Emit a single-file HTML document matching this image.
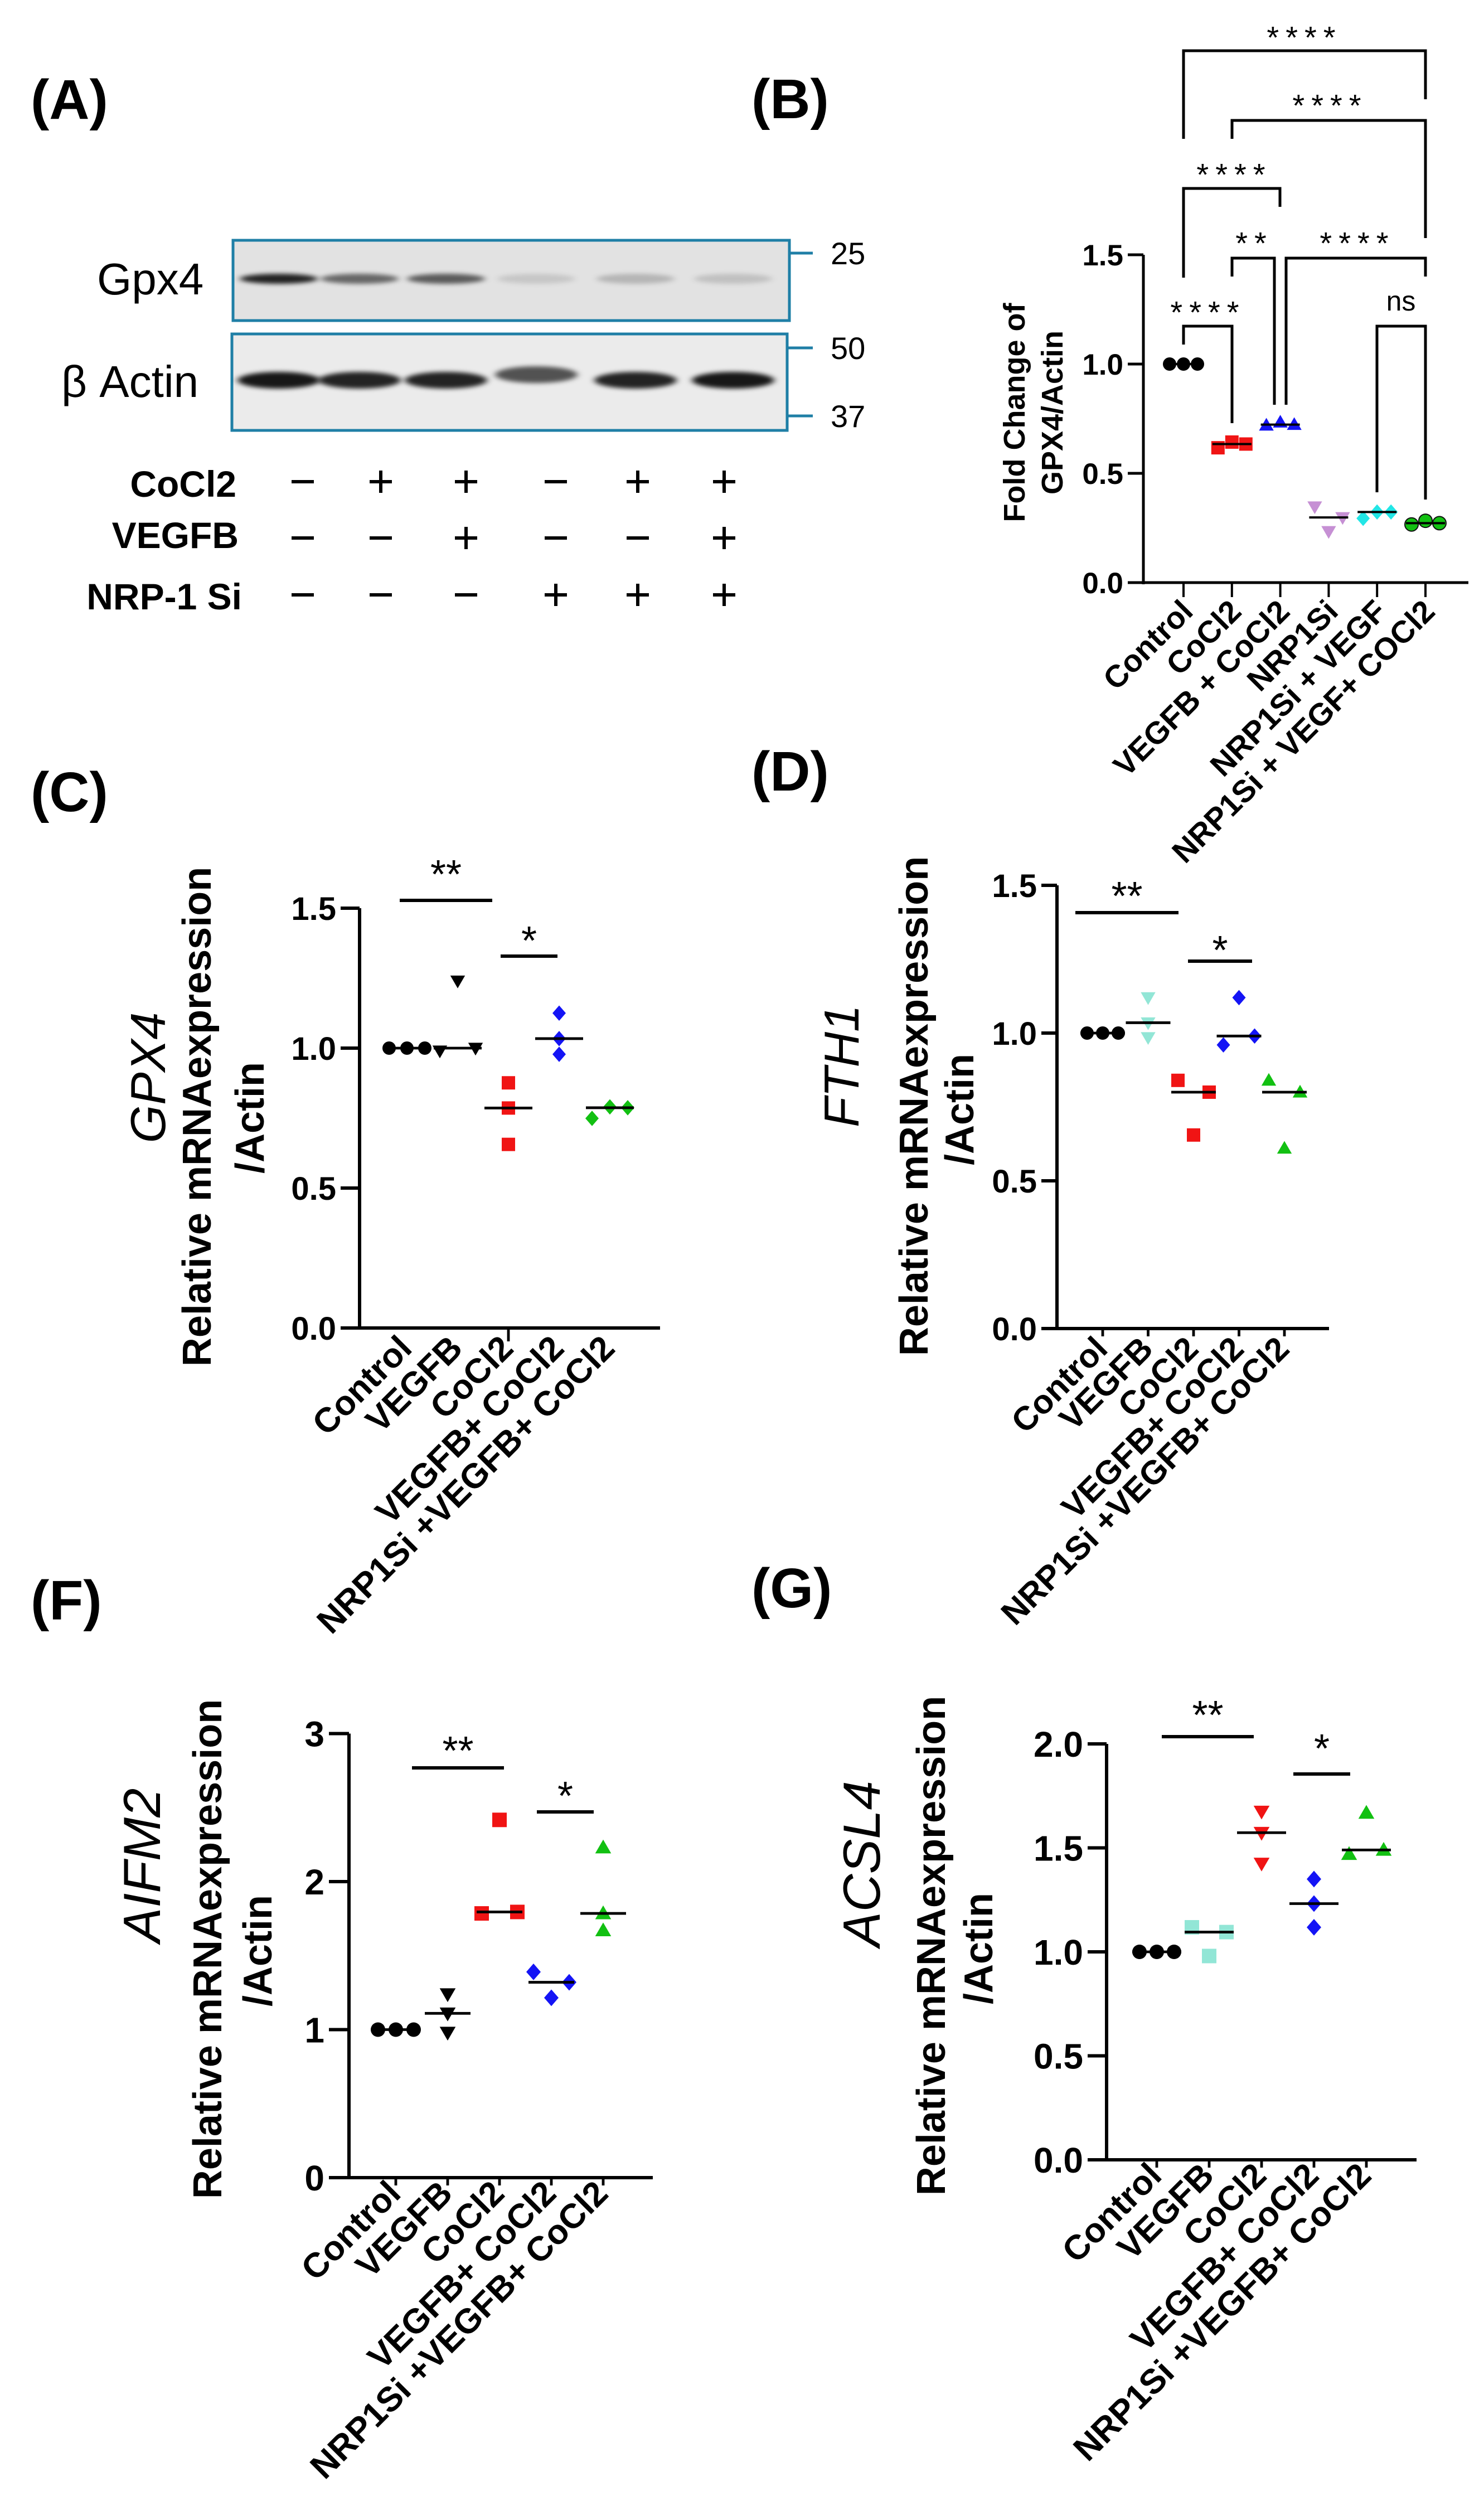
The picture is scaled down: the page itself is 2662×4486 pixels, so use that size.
<!DOCTYPE html>
<html><head><meta charset="utf-8"><style>
html,body{margin:0;padding:0;background:#fff;}
svg{display:block;font-family:"Liberation Sans",Arial,sans-serif;}
</style></head><body>
<svg id="fig" xmlns="http://www.w3.org/2000/svg" width="2662" height="4486" viewBox="0 0 2662 4486">
<defs>
<filter id="blur" x="-30%" y="-100%" width="160%" height="300%"><feGaussianBlur stdDeviation="6 4"/></filter>
</defs>
<g>
<text x="55" y="213" font-size="100" font-weight="bold">(A)</text>
<rect x="418" y="431" width="998" height="144" fill="#e2e2e2" stroke="#1f7fa6" stroke-width="5"/>
<rect x="416" y="599" width="996" height="173" fill="#ebebeb" stroke="#1f7fa6" stroke-width="5"/>
<text x="174" y="528" font-size="80">Gpx4</text>
<text x="110" y="712" font-size="80">β Actin</text>
<g stroke="#1f7fa6" stroke-width="5">
<line x1="1416" y1="454" x2="1458" y2="454"/>
<line x1="1412" y1="624" x2="1458" y2="624"/>
<line x1="1412" y1="746" x2="1458" y2="746"/>
</g>
<text x="1490" y="474" font-size="56">25</text>
<text x="1490" y="644" font-size="56">50</text>
<text x="1490" y="766" font-size="56">37</text>
<text x="424" y="891" font-size="66" font-weight="bold" text-anchor="end">CoCl2</text>
<text x="428" y="983" font-size="66" font-weight="bold" text-anchor="end">VEGFB</text>
<text x="434" y="1093" font-size="66" font-weight="bold" text-anchor="end">NRP-1 Si</text>
<g id="blotBands"></g>
<g id="signs"></g>
</g>
<g id="charts"></g>
</svg>
<script>
// ---------- Blot data ----------
const laneX = [500, 645, 800, 962, 1140, 1315];
const gpx4Intensity = [0.85, 0.55, 0.6, 0.12, 0.2, 0.15];
const actinIntensity = [0.9, 0.85, 0.85, 0.65, 0.85, 0.9];
const cocl2Row = ["-", "+", "+", "-", "+", "+"];
const vegfbRow = ["-", "-", "+", "-", "-", "+"];
const nrpRow = ["-", "-", "-", "+", "+", "+"];
const signX = [543, 683, 836, 997, 1144, 1299];

// ---------- Panel B data ----------
const catsB = ["Control", "CoCl2", "VEGFB + CoCl2", "NRP1Si", "NRP1Si + VEGF", "NRP1Si + VEGF+ COCl2"];
const bControl = [1, 1, 1];
const bCoCl2 = [0.617, 0.643, 0.634];
const bVegfbCoCl2 = [0.72, 0.734, 0.723];
const bNrp1Si = [0.347, 0.234, 0.298];
const bNrp1SiVegf = [0.294, 0.323, 0.323];
const bNrp1SiVegfCoCl2 = [0.266, 0.283, 0.272];
const ticksB = [0, 0.5, 1.0, 1.5];

// ---------- mRNA panels data ----------
const catsMRNA = ["Control", "VEGFB", "CoCl2", "VEGFB+ CoCl2", "NRP1Si +VEGFB+ CoCl2"];
const cControl = [1, 1, 1];
const cVegfb = [1.24, 0.99, 1.0];
const cCoCl2 = [0.876, 0.786, 0.656];
const cVegfbCoCl2 = [1.125, 1.034, 0.978];
const cNrp = [0.749, 0.79, 0.787];
const ticksC = [0, 0.5, 1.0, 1.5];

const dControl = [1, 1, 1];
const dVegfb = [1.12, 1.035, 0.985];
const dCoCl2 = [0.84, 0.80, 0.655];
const dVegfbCoCl2 = [1.12, 0.99, 0.96];
const dNrp = [0.84, 0.80, 0.61];
const ticksD = [0, 0.5, 1.0, 1.5];

const fControl = [1, 1, 1];
const fVegfb = [1.24, 1.11, 0.98];
const fCoCl2 = [1.785, 2.417, 1.795];
const fVegfbCoCl2 = [1.39, 1.215, 1.32];
const fNrp = [2.23, 1.785, 1.67];
const ticksF = [0, 1, 2, 3];

const gControl = [1, 1, 1];
const gVegfb = [1.118, 0.98, 1.095];
const gCoCl2 = [1.675, 1.573, 1.425];
const gVegfbCoCl2 = [1.35, 1.232, 1.118];
const gNrp = [1.47, 1.668, 1.49];
const ticksG = [0, 0.5, 1.0, 1.5, 2.0];

const NS = "http://www.w3.org/2000/svg";
function mk(tag, attrs, parent) {
  const e = document.createElementNS(NS, tag);
  for (const k in attrs) e.setAttribute(k, attrs[k]);
  parent.appendChild(e);
  return e;
}
function median(a) { const s = a.slice().sort((p, q) => p - q); return s[Math.floor(s.length / 2)]; }

// ---------- Blot bands ----------
const bandG = document.getElementById("blotBands");
laneX.forEach((x, i) => {
  const g = gpx4Intensity[i], a = actinIntensity[i];
  const b1 = mk("ellipse", {cx: x, cy: 500, rx: 70, ry: 9, fill: "#000", "fill-opacity": g, filter: "url(#blur)"}, bandG);
  
  
  const b2 = mk("ellipse", {cx: x, cy: i === 3 ? 672 : 682, rx: 74, ry: 15, fill: "#000", "fill-opacity": a, filter: "url(#blur)"}, bandG);
  
  
});
const signG = document.getElementById("signs");
[[cocl2Row, 864], [vegfbRow, 965], [nrpRow, 1067]].forEach(([row, y]) => {
  row.forEach((s, i) => {
    const x = signX[i];
    const h = mk("line", {x1: x - 20, y1: y, x2: x + 20, y2: y, stroke: "#000", "stroke-width": 6}, signG);
    
    
    if (s === "+") {
      const v = mk("line", {x1: x, y1: y - 20, x2: x, y2: y + 20, stroke: "#000", "stroke-width": 6}, signG);
      
      
    }
  });
});

// ---------- Markers ----------
function marker(parent, shape, cx, cy, r, fill, stroke) {
  let e;
  if (shape === "circle") e = mk("circle", {cx, cy, r}, parent);
  else if (shape === "square") e = mk("rect", {x: cx - r, y: cy - r, width: 2 * r, height: 2 * r}, parent);
  else if (shape === "up") e = mk("polygon", {points: `${cx},${cy - r * 1.1} ${cx - r * 1.1},${cy + r * 0.8} ${cx + r * 1.1},${cy + r * 0.8}`}, parent);
  else if (shape === "down") e = mk("polygon", {points: `${cx},${cy + r * 1.1} ${cx - r * 1.1},${cy - r * 0.8} ${cx + r * 1.1},${cy - r * 0.8}`}, parent);
  else e = mk("polygon", {points: `${cx},${cy - r * 1.15} ${cx + r * 1.0},${cy} ${cx},${cy + r * 1.15} ${cx - r * 1.0},${cy}`}, parent);
  e.setAttribute("fill", fill);
  if (stroke) { e.setAttribute("stroke", stroke); e.setAttribute("stroke-width", 2); }
  return e;
}

// ---------- Generic scatter panel ----------
function drawPanel(p) {
  const root = document.getElementById("charts");
  const g = mk("g", {}, root);
  
  
  const yS = v => p.y0 - v * p.per1;
  const xS = i => p.cx0 + i * p.step;
  const top = yS(p.ticks[p.ticks.length - 1]);
  const lab = mk("text", {x: p.labelX, y: p.labelY, "font-size": 100, "font-weight": "bold"}, g);
  lab.textContent = p.letter;
  
  
  const ya = mk("line", {x1: p.ax, y1: top, x2: p.ax, y2: p.y0 + 3, stroke: "#000", "stroke-width": p.sw}, g);
  
  
  const xa = mk("line", {x1: p.ax - p.tickLen, y1: p.y0, x2: p.xEnd, y2: p.y0, stroke: "#000", "stroke-width": p.sw}, g);
  
  
  p.ticks.forEach(t => {
    const y = yS(t);
    const tl = mk("line", {x1: p.ax - p.tickLen, y1: y, x2: p.ax, y2: y, stroke: "#000", "stroke-width": p.sw}, g);
    
    
    const tx = mk("text", {x: p.ax - p.tickLen - 8, y: y + p.tickFs * 0.36, "font-size": p.tickFs, "font-weight": "bold", "text-anchor": "end"}, g);
    tx.textContent = p.dec ? t.toFixed(1) : String(t);
    
    
  });
  p.cats.forEach((c, i) => {
    const x = xS(i);
    if (p.xTicks === "all" || p.xTicks === i) {
      const xt = mk("line", {x1: x, y1: p.y0, x2: x, y2: p.y0 + p.xTickLen, stroke: "#000", "stroke-width": p.sw * 0.8}, g);
      
      
    }
    const ct = mk("text", {transform: `translate(${x + p.catDx},${p.y0 + p.catDy}) rotate(-45)`, "font-size": p.catFs, "font-weight": "bold", "text-anchor": "end"}, g);
    ct.textContent = c;
    
    
    const vals = p.series[i];
    const st = p.styles[i];
    const med = median(vals);
    vals.forEach((v, j) => {
      const m = marker(g, st[0], x + p.jit[i][j] * p.jitU, yS(v), p.r, st[1], st[2]);
      
      
    });
    const ml = mk("line", {x1: x - p.medW / 2, y1: yS(med), x2: x + p.medW / 2, y2: yS(med), stroke: "#000", "stroke-width": p.sw * 0.8}, g);
    
    
  });
  const yt1 = mk("text", {transform: `translate(${p.t1x},${p.t1y}) rotate(-90)`, "font-size": p.titleFs, "font-weight": "bold", "text-anchor": "middle"}, g);
  yt1.textContent = p.title1;
  
  
  const yt2 = mk("text", {transform: `translate(${p.t2x},${p.t2y}) rotate(-90)`, "font-size": p.titleFs, "font-weight": "bold", "text-anchor": "middle"}, g);
  yt2.textContent = p.title2;
  
  
  if (p.gene) {
    const gn = mk("text", {transform: `translate(${p.gx},${p.gy}) rotate(-90)`, "font-size": p.geneFs, "font-style": "italic", "text-anchor": "middle"}, g);
    gn.textContent = p.gene;
    
    
  }
  (p.sig || []).forEach(s => {
    const sl = mk("line", {x1: s[0], y1: s[2], x2: s[1], y2: s[2], stroke: "#000", "stroke-width": 6}, g);
    
    
    const stx = mk("text", {x: (s[0] + s[1]) / 2, y: s[3] + 72 * 0.58, "font-size": 72, "text-anchor": "middle"}, g);
    stx.textContent = s[4];
    
    
  });
  (p.brackets || []).forEach(b => {
    const bp = mk("polyline", {points: `${b[0]},${b[3]} ${b[0]},${b[2]} ${b[1]},${b[2]} ${b[1]},${b[4]}`, fill: "none", stroke: "#000", "stroke-width": 5}, g);
    
    
    const isNs = b[5] === "ns";
    const bt = mk("text", {x: b[6], y: b[7] + (isNs ? 18 : 56 * 0.58), "font-size": isNs ? 50 : 56, "text-anchor": "middle", "letter-spacing": isNs ? 0 : 12}, g);
    bt.textContent = b[5];
    
    
  });
}

const RED = "#f01414", BLUE = "#1414f5", GREEN = "#12c012", CYAN = "#22e6e6", AQUA = "#92e6d6", PURPLE = "#c690d4";

drawPanel({
  name: "panel-b-chart", letter: "(B)", labelX: 1348, labelY: 212,
  ax: 2051, y0: 1045, per1: 392, ticks: ticksB, dec: true, tickLen: 28, tickFs: 53, sw: 5,
  cx0: 2123, step: 86.8, xEnd: 2634, xTicks: "all", xTickLen: 26, cats: catsB, catFs: 56, catDx: 20, catDy: 55,
  series: [bControl, bCoCl2, bVegfbCoCl2, bNrp1Si, bNrp1SiVegf, bNrp1SiVegfCoCl2],
  styles: [["circle", "#000"], ["square", RED], ["up", BLUE], ["down", PURPLE], ["diamond", CYAN], ["circle", GREEN, "#111"]],
  jit: [[-1, 0, 1], [-1, 0, 1], [-1, 0, 1], [-1, 0, 1], [-1, 0, 1], [-1, 0, 1]], jitU: 25, r: 12, medW: 70,
  title1: "Fold Change of", t1x: 1838, t1y: 740, title2: "GPX4/Actin", t2x: 1906, t2y: 740, titleFs: 54,
  brackets: [
    [2123, 2557, 91, 249, 178, "****", 2340, 54],
    [2210, 2557, 216, 249, 427, "****", 2386, 176],
    [2123, 2296, 338, 498, 371, "****", 2214, 300],
    [2210, 2286, 463, 496, 726, "**", 2250, 423],
    [2307, 2557, 463, 726, 496, "****", 2435, 423],
    [2123, 2210, 585, 618, 759, "****", 2167, 547],
    [2470, 2557, 585, 883, 896, "ns", 2513, 539]
  ]
});

drawPanel({
  name: "panel-c-chart", letter: "(C)", labelX: 55, labelY: 1455,
  ax: 645, y0: 2382, per1: 502, ticks: ticksC, dec: true, tickLen: 34, tickFs: 58, sw: 6,
  cx0: 730, step: 91, xEnd: 1184, xTicks: 2, xTickLen: 24, cats: catsMRNA, catFs: 62, catDx: 12, catDy: 40,
  series: [cControl, cVegfb, cCoCl2, cVegfbCoCl2, cNrp],
  styles: [["circle", "#000"], ["down", "#000"], ["square", RED], ["diamond", BLUE], ["diamond", GREEN]],
  jit: [[-1, 0, 1], [0, -1, 1], [0, 0, 0], [0, 0, 0], [-1, 0, 1]], jitU: 32, r: 12, medW: 86,
  title1: "Relative mRNAexpression", t1x: 378, t1y: 2003, title2: "/Actin", t2x: 473, t2y: 2005, titleFs: 72,
  gene: "GPX4", gx: 296, gy: 1933, geneFs: 88,
  sig: [[717, 883, 1615, 1551, "**"], [898, 1000, 1715, 1670, "*"]]
});

drawPanel({
  name: "panel-d-chart", letter: "(D)", labelX: 1348, labelY: 1418,
  ax: 1896, y0: 2383, per1: 530, ticks: ticksD, dec: true, tickLen: 28, tickFs: 58, sw: 6,
  cx0: 1978, step: 81.5, xEnd: 2384, xTicks: "all", xTickLen: 14, cats: catsMRNA, catFs: 60, catDx: 12, catDy: 40,
  series: [dControl, dVegfb, dCoCl2, dVegfbCoCl2, dNrp],
  styles: [["circle", "#000"], ["down", AQUA], ["square", RED], ["diamond", BLUE], ["up", GREEN]],
  jit: [[-1, 0, 1], [0, 0, 0], [-1, 1, 0], [0, 1, -1], [-1, 1, 0]], jitU: 28, r: 12, medW: 80,
  title1: "Relative mRNAexpression", t1x: 1664, t1y: 1984, title2: "/Actin", t2x: 1746, t2y: 1990, titleFs: 72,
  gene: "FTH1", gx: 1540, gy: 1912, geneFs: 88,
  sig: [[1929, 2114, 1637, 1590, "**"], [2131, 2246, 1724, 1687, "*"]]
});

drawPanel({
  name: "panel-f-chart", letter: "(F)", labelX: 55, labelY: 2905,
  ax: 626, y0: 3906, per1: 265.5, ticks: ticksF, dec: false, tickLen: 36, tickFs: 64, sw: 6,
  cx0: 710, step: 93, xEnd: 1171, xTicks: "all", xTickLen: 14, cats: catsMRNA, catFs: 62, catDx: 12, catDy: 32,
  series: [fControl, fVegfb, fCoCl2, fVegfbCoCl2, fNrp],
  styles: [["circle", "#000"], ["down", "#000"], ["square", RED], ["diamond", BLUE], ["up", GREEN]],
  jit: [[-1, 0, 1], [0, 0, 0], [-1, 0, 1], [-1, 0, 1], [0, 0, 0]], jitU: 32, r: 13, medW: 82,
  title1: "Relative mRNAexpression", t1x: 397, t1y: 3496, title2: "/Actin", t2x: 487, t2y: 3499, titleFs: 72,
  gene: "AIFM2", gx: 287, gy: 3346, geneFs: 94,
  sig: [[739, 904, 3171, 3123, "**"], [963, 1065, 3250, 3204, "*"]]
});

drawPanel({
  name: "panel-g-chart", letter: "(G)", labelX: 1348, labelY: 2883,
  ax: 1985, y0: 3874, per1: 373, ticks: ticksG, dec: true, tickLen: 34, tickFs: 64, sw: 6,
  cx0: 2075, step: 94, xEnd: 2541, xTicks: "all", xTickLen: 14, cats: catsMRNA, catFs: 62, catDx: 12, catDy: 32,
  series: [gControl, gVegfb, gCoCl2, gVegfbCoCl2, gNrp],
  styles: [["circle", "#000"], ["square", AQUA], ["down", RED], ["diamond", BLUE], ["up", GREEN]],
  jit: [[-1, 0, 1], [-1, 0, 1], [0, 0, 0], [0, 0, 0], [-1, 0, 1]], jitU: 31, r: 13, medW: 88,
  title1: "Relative mRNAexpression", t1x: 1695, t1y: 3490, title2: "/Actin", t2x: 1780, t2y: 3495, titleFs: 72,
  gene: "ACSL4", gx: 1578, gy: 3343, geneFs: 94,
  sig: [[2084, 2249, 3115, 3059, "**"], [2320, 2422, 3182, 3119, "*"]]
});
</script>
</body></html>
